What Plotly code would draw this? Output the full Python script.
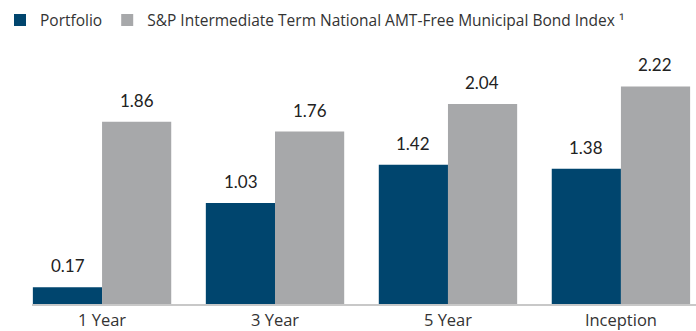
import plotly.graph_objects as go

# Annualised returns (%) by period
periods = ["1 Year", "3 Year", "5 Year", "Inception"]
portfolio = [0.17, 1.03, 1.42, 1.38]
index_returns = [1.86, 1.76, 2.04, 2.22]

series_names = ["Portfolio", "S&P Intermediate Term National AMT-Free Municipal Bond Index ¹"]
series_colors = ["#00456e", "#a7a8aa"]

fig = go.Figure()
for name, vals, color in zip(series_names, [portfolio, index_returns], series_colors):
    fig.add_trace(go.Bar(x=periods, y=vals, name=name, marker=dict(color=color, line=dict(width=0))))

# value labels above each bar, offset to its slot in the group
bar_half = 34.5
for offset, vals in zip([-bar_half, bar_half], [portfolio, index_returns]):
    for p, v in zip(periods, vals):
        fig.add_annotation(x=p, y=v, text=f"{v:.2f}", showarrow=False,
                           xshift=offset, yshift=9, yanchor="bottom",
                           font=dict(family="Lato, sans-serif", size=17, color="#222222"))

fig.update_layout(
    width=696, height=331,
    margin=dict(l=32, r=0, t=58.5, b=23.5),
    paper_bgcolor="white", plot_bgcolor="white",
    barmode="group", bargap=0.2, bargroupgap=0,
    font=dict(family="Lato, sans-serif", color="#333333"),
    showlegend=True,
    legend=dict(orientation="h", xref="container", yref="container", x=0, y=0.99,
                xanchor="left", yanchor="top",
                font=dict(family="Open Sans, sans-serif", size=15.5, color="#333333"),
                itemwidth=30, traceorder="normal"),
    xaxis=dict(range=[-0.405, 3.434], showline=True, linecolor="#c8c8c8", linewidth=2,
               ticks="", tickfont=dict(family="Open Sans, sans-serif", size=16.5, color="#333333"),
               showgrid=False),
    yaxis=dict(range=[0, 2.5], visible=False, showgrid=False, zeroline=False),
)

fig.write_html("out.html")
